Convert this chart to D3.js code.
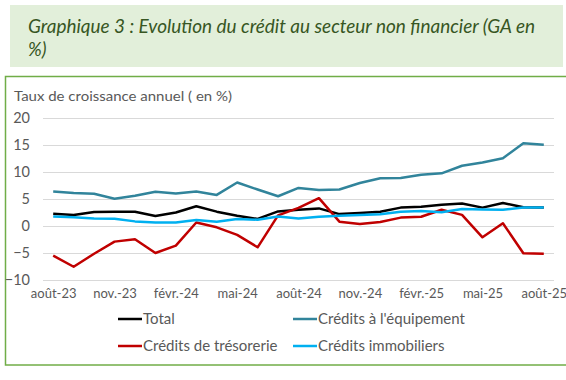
<!DOCTYPE html>
<html><head><meta charset="utf-8">
<script src="https://cdn.jsdelivr.net/npm/d3@7/dist/d3.min.js"></script>
<style>
body{margin:0;background:#fff;}
svg{display:block;font-family:Lato,"Open Sans",sans-serif;}
</style></head>
<body><svg id="c" width="566" height="380"></svg>
<script>
const months = ["août-23","sept.-23","oct.-23","nov.-23","déc.-23","janv.-24","févr.-24","mars-24","avr.-24","mai-24","juin-24","juil.-24",
  "août-24","sept.-24","oct.-24","nov.-24","déc.-24","janv.-25","févr.-25","mars-25","avr.-25","mai-25","juin-25","juil.-25","août-25"];
const tickLabels = ["août-23","nov.-23","févr.-24","mai-24","août-24","nov.-24","févr.-25","mai-25","août-25"];
const yTicks = [-10,-5,0,5,10,15,20];
const total = [2.2,2.0,2.55,2.6,2.6,1.8,2.45,3.6,2.6,1.85,1.25,2.65,2.95,3.2,2.15,2.35,2.6,3.35,3.5,3.9,4.1,3.35,4.2,3.4,3.35];
const equipement = [6.35,6.05,5.9,5.0,5.55,6.3,5.95,6.35,5.7,8.0,6.7,5.45,7.0,6.6,6.7,7.9,8.8,8.85,9.45,9.7,11.1,11.7,12.5,15.25,15.0];
const tresorerie = [-5.55,-7.6,-5.2,-2.95,-2.5,-5.05,-3.7,0.6,-0.3,-1.7,-4.0,1.9,3.3,5.1,0.75,0.3,0.7,1.5,1.65,2.95,2.0,-2.15,0.45,-5.1,-5.2];
const immobiliers = [1.7,1.55,1.35,1.3,0.8,0.6,0.6,1.05,0.75,1.25,1.1,1.7,1.35,1.65,1.85,2.0,2.1,2.6,2.7,2.5,3.1,3.0,2.95,3.35,3.35];
const seriesNames = ["Total","Crédits à l'équipement","Crédits de trésorerie","Crédits immobiliers"];
const seriesColors = ["#000000","#31849B","#C00000","#00B0F0"];
const seriesData = [total, equipement, tresorerie, immobiliers];

const svg = d3.select("#c");
// Title box
svg.append("rect").attr("x",10).attr("y",5).attr("width",553).attr("height",62).attr("fill","#E2EFDA");
svg.append("text").attr("x",28).attr("y",33).attr("fill","#375623").attr("font-style","italic")
  .attr("font-size",18.5).attr("textLength",507).attr("lengthAdjust","spacingAndGlyphs")
  .text("Graphique 3 : Evolution du crédit au secteur non financier (GA en");
svg.append("text").attr("x",28).attr("y",56).attr("fill","#375623").attr("font-style","italic")
  .attr("font-size",18.5).text("%)");
// Chart border
svg.append("rect").attr("x",5.5).attr("y",76.5).attr("width",565).attr("height",288.5)
  .attr("fill","none").attr("stroke","#70AD47").attr("stroke-width",1.5);

const x = d3.scalePoint().domain(months).range([53.2,543.8]);
const y = d3.scaleLinear().domain([-10,20]).range([279.7,117.7]);

// gridlines
svg.append("g").selectAll("line").data(yTicks).join("line")
  .attr("x1",43).attr("x2",554).attr("y1",d=>Math.round(y(d))+0.5).attr("y2",d=>Math.round(y(d))+0.5)
  .attr("stroke","#D9D9D9").attr("stroke-width",1);

// y axis
const yAxis = svg.append("g").attr("transform","translate(43,0)")
  .call(d3.axisLeft(y).tickValues(yTicks).tickSize(0).tickPadding(13));
yAxis.select(".domain").remove();
yAxis.selectAll("text").attr("font-size",14.5).attr("fill","#595959").attr("font-family","Lato,sans-serif");

// x axis
const xAxis = svg.append("g").attr("transform","translate(0,289)")
  .call(d3.axisBottom(x).tickValues(tickLabels).tickSize(0).tickPadding(0));
xAxis.select(".domain").remove();
xAxis.selectAll("text").attr("font-size",13).attr("fill","#595959").attr("font-family","Lato,sans-serif").attr("dy","0.71em");

// axis title
svg.append("text").attr("x",14).attr("y",101).attr("font-size",14).attr("fill","#595959")
  .attr("textLength",218).attr("lengthAdjust","spacingAndGlyphs")
  .text("Taux de croissance annuel ( en %)");

// lines
const line = d3.line().x((d,i)=>x(months[i])).y(d=>y(d));
seriesData.forEach((s,k)=>{
  svg.append("path").datum(s).attr("d",line).attr("fill","none")
    .attr("stroke",seriesColors[k]).attr("stroke-width",2.5).attr("stroke-linejoin","round");
});

// legend
const legPos = [[118,319],[293,319],[118,346],[293,346]];
seriesNames.forEach((n,k)=>{
  const [lx,ly] = legPos[k];
  svg.append("line").attr("x1",lx).attr("x2",lx+24).attr("y1",ly).attr("y2",ly)
    .attr("stroke",seriesColors[k]).attr("stroke-width",2.5);
  svg.append("text").attr("x",lx+25).attr("y",ly).attr("dy","0.35em").attr("font-size",15)
    .attr("fill","#595959").text(n);
});
</script></body></html>
